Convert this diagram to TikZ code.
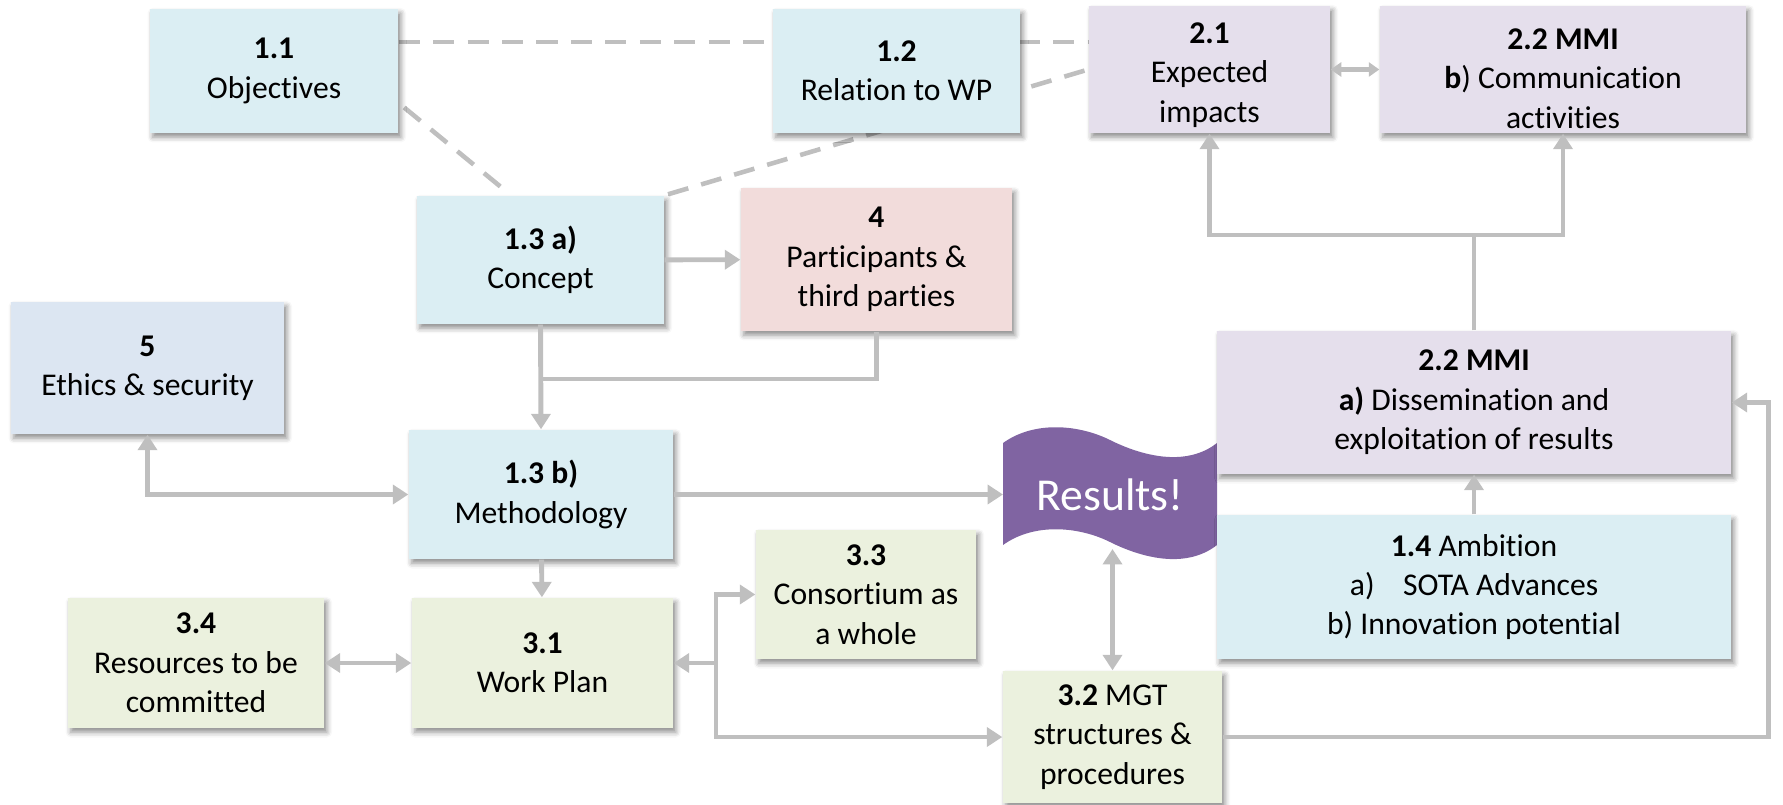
\documentclass[tikz,border=0pt]{standalone}
\usepackage{fontspec}
\setmainfont{Carlito}[Ligatures=CommonOff]
\usetikzlibrary{arrows.meta,shadows.blur,backgrounds}
\definecolor{boxblue}{HTML}{DBEEF3}
\definecolor{boxlilac}{HTML}{E5DFEC}
\definecolor{boxpink}{HTML}{F2DCDB}
\definecolor{boxsky}{HTML}{DCE6F2}
\definecolor{boxgreen}{HTML}{EBF1DE}
\definecolor{resviolet}{HTML}{8064A2}
\definecolor{linegray}{HTML}{BFBFBF}
\newcommand\wpbox[7]{%
  \node[wp,fill=#2,minimum width=#5*0.1mm,minimum height=#6*0.1mm] (#1) at (#3,#4) {#7}
}

\begin{document}
\begin{tikzpicture}[x=0.1mm,y=-0.1mm,
    font=\fontsize{9}{11.2}\selectfont,
    >={Triangle[width=5.4pt,length=4.4pt]},
    wp/.style={align=center,inner sep=0pt,
      blur shadow={shadow xshift=0.8pt,shadow yshift=-1.2pt,shadow blur radius=1.5pt,shadow opacity=45}},
    conn/.style={draw=linegray,line width=1.4pt},
    dashline/.style={draw=linegray,line width=1.3pt,dash pattern=on 6pt off 3.8pt}]
  \useasboundingbox (0,0) rectangle (1783,805);

  % The banner
  \fill[resviolet] (1003,443) .. controls (1035,420) and (1080,425) .. (1110,440)
    .. controls (1140,455) and (1185,468) .. (1217,443) -- (1217,545)
    .. controls (1185,570) and (1140,557) .. (1110,542)
    .. controls (1080,527) and (1035,522) .. (1003,545) -- cycle;
  \node[text=white,font=\fontsize{13}{15}\selectfont] (res) at (1110,495) {Results!};
  \coordinate (resw) at (1003,494.5);
  \coordinate (ress) at (1112.5,549);

  % Section 1
  \wpbox{obj}{boxblue}{274}{71}{248}{124}{\textbf{1.1}\\Objectives};
  \wpbox{rel}{boxblue}{896.5}{71}{247}{124}{\textbf{1.2}\\Relation to WP};
  \wpbox{concept}{boxblue}{540.5}{260}{247}{128}{\textbf{1.3 a)}\\Concept};
  \wpbox{method}{boxblue}{541}{494.5}{264}{129}{\textbf{1.3 b)}\\Methodology};
  \wpbox{ambition}{boxblue}{1474}{587}{514}{144}{\textbf{1.4} Ambition\\a)\hspace{0.9em}SOTA Advances\\b) Innovation potential};

  % Section 2
  \wpbox{impact}{boxlilac}{1209.5}{69.5}{241}{127}{\rule{0pt}{9pt}\textbf{2.1}\\Expected\\impacts};
  \wpbox{comm}{boxlilac}{1563}{69.5}{366}{127}{\rule{0pt}{11pt}\textbf{2.2 MMI}\\\textbf{b}) Communication\\activities};
  \wpbox{dissem}{boxlilac}{1474}{402.5}{514}{143}{\textbf{2.2 MMI}\\\textbf{a)} Dissemination and\\exploitation of results};

  % Section 3, 4, 5
  \wpbox{workplan}{boxgreen}{542.5}{663}{261}{130}{\textbf{3.1}\\Work Plan};
  \wpbox{mgt}{boxgreen}{1112.5}{737}{219}{132}{\textbf{3.2} MGT\\structures \&\\procedures};
  \wpbox{consort}{boxgreen}{866}{594.5}{220}{129}{\textbf{3.3}\\Consortium as\\a whole};
  \wpbox{resource}{boxgreen}{196}{663}{256}{130}{\textbf{3.4}\\Resources to be\\committed};
  \wpbox{partic}{boxpink}{876.5}{259.5}{271}{143}{\textbf{4}\\Participants \&\\third parties};
  \wpbox{ethics}{boxsky}{147.5}{368}{273}{132}{\textbf{5}\\Ethics \& security};

  % Dashed links
  \begin{pgfonlayer}{background}
    \draw[dashline] (obj.east |- 0,42) -- (impact.west |- 0,42);
    \draw[dashline,shorten <=2pt,shorten >=2.3pt] (obj.east |- 0,103) -- (concept.north -| 511,0);
    \draw[dashline,shorten <=1pt] (concept.north east) -- (impact.west);
  \end{pgfonlayer}

  % Arrows
  \coordinate (split) at (dissem.north |- 0,235);
  \draw[conn] (dissem.north) -- (split);
  \draw[conn,->] (split) -| (impact.south);
  \draw[conn,->] (split) -| (comm.south);
  \draw[conn,{Triangle[width=4pt,length=3pt]}-{Triangle[width=4pt,length=3pt]}] (impact) -- (comm);
  \draw[conn,->] (concept) -- (partic);
  \draw[conn,->] (concept.south) -- (method.north);
  \draw[conn] (partic.south) |- (concept.south |- 0,379);
  \draw[conn,<->] (ethics.south) |- (method.west);
  \draw[conn,->] (method.east) -- (resw);
  \draw[conn,->] (ambition) -- (dissem);
  \draw[conn,->] (mgt.east) -- ++(546,0) |- (dissem.east);
  \draw[conn,<->] (mgt.north) -- (ress);
  \draw[conn,->] (method) -- (workplan);
  \draw[conn,<->] (resource) -- (workplan);
  \coordinate (jn) at (716,663);
  \draw[conn,->] (jn) -- (workplan.east);
  \draw[conn,->] (jn) |- (consort.west);
  \draw[conn,->] (jn) |- (mgt.west);
\end{tikzpicture}
\end{document}
